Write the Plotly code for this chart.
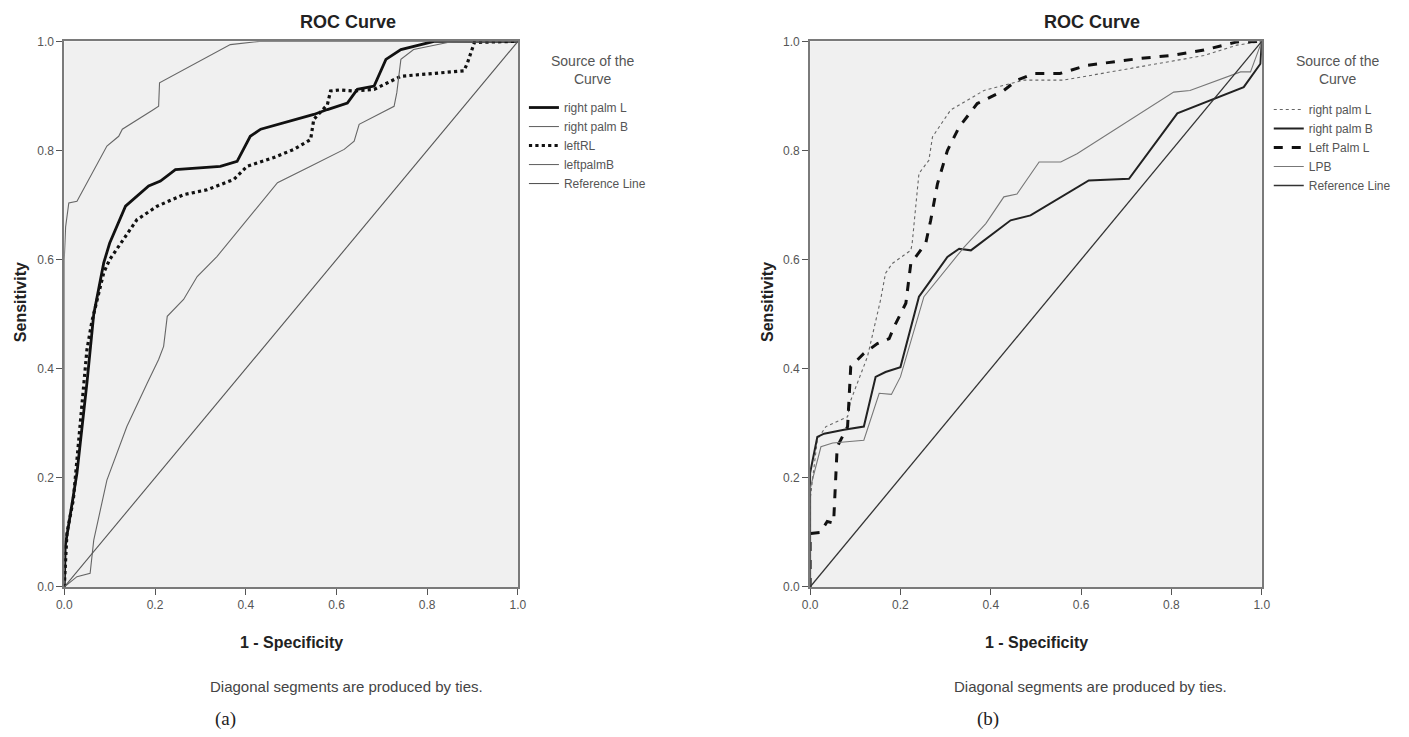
import plotly.graph_objects as go

# ---------------- Panel (a) data ----------------
a_rpl_x = [0, 0.002, 0.028, 0.05, 0.065, 0.087, 0.10, 0.135, 0.186, 0.212, 0.245, 0.344, 0.381, 0.41, 0.433, 0.55, 0.58, 0.624, 0.646, 0.683, 0.709, 0.742, 0.815, 1.0]
a_rpl_y = [0, 0.074, 0.209, 0.374, 0.50, 0.594, 0.63, 0.698, 0.735, 0.744, 0.765, 0.771, 0.78, 0.826, 0.839, 0.866, 0.875, 0.887, 0.912, 0.918, 0.967, 0.985, 1.0, 1.0]

a_rpb_x = [0, 0, 0.003, 0.01, 0.028, 0.094, 0.12, 0.128, 0.197, 0.208, 0.21, 0.366, 0.43, 1.0]
a_rpb_y = [0, 0.60, 0.66, 0.704, 0.707, 0.808, 0.826, 0.839, 0.875, 0.881, 0.924, 0.994, 1.0, 1.0]

a_lrl_x = [0, 0.006, 0.02, 0.035, 0.05, 0.061, 0.087, 0.10, 0.16, 0.205, 0.263, 0.315, 0.374, 0.403, 0.462, 0.506, 0.543, 0.55, 0.58, 0.587, 0.607, 0.639, 0.683, 0.742, 0.881, 0.889, 0.904, 1.0]
a_lrl_y = [0, 0.099, 0.16, 0.294, 0.435, 0.487, 0.576, 0.60, 0.673, 0.698, 0.719, 0.728, 0.747, 0.771, 0.787, 0.802, 0.82, 0.857, 0.884, 0.909, 0.911, 0.909, 0.912, 0.936, 0.946, 0.961, 0.998, 1.0]

a_lpb_x = [0, 0.028, 0.057, 0.065, 0.094, 0.138, 0.183, 0.208, 0.219, 0.227, 0.263, 0.285, 0.293, 0.337, 0.374, 0.433, 0.47, 0.543, 0.617, 0.639, 0.65, 0.727, 0.733, 0.742, 0.77, 0.845, 1.0]
a_lpb_y = [0, 0.019, 0.025, 0.086, 0.196, 0.294, 0.374, 0.417, 0.441, 0.496, 0.527, 0.557, 0.569, 0.606, 0.643, 0.704, 0.741, 0.771, 0.802, 0.817, 0.848, 0.881, 0.906, 0.967, 0.985, 0.998, 1.0]

# ---------------- Panel (b) data ----------------
b_rpl_x = [0, 0, 0.016, 0.035, 0.083, 0.09, 0.127, 0.145, 0.156, 0.167, 0.182, 0.223, 0.226, 0.241, 0.263, 0.271, 0.311, 0.385, 0.473, 0.562, 0.724, 0.872, 0.945, 1.0]
b_rpl_y = [0, 0.16, 0.27, 0.294, 0.312, 0.342, 0.422, 0.489, 0.526, 0.575, 0.593, 0.617, 0.63, 0.758, 0.782, 0.825, 0.874, 0.91, 0.929, 0.929, 0.953, 0.974, 0.993, 1.0]

b_rpb_x = [0, 0, 0.016, 0.031, 0.075, 0.119, 0.145, 0.167, 0.20, 0.241, 0.267, 0.304, 0.33, 0.356, 0.444, 0.488, 0.617, 0.706, 0.813, 0.894, 0.96, 0.997, 1.0]
b_rpb_y = [0, 0.209, 0.275, 0.281, 0.288, 0.294, 0.385, 0.394, 0.403, 0.532, 0.562, 0.605, 0.62, 0.617, 0.672, 0.681, 0.745, 0.748, 0.868, 0.895, 0.916, 0.959, 1.0]

b_lpl_x = [0, 0, 0.022, 0.038, 0.052, 0.06, 0.083, 0.09, 0.119, 0.149, 0.175, 0.186, 0.212, 0.223, 0.256, 0.267, 0.282, 0.304, 0.33, 0.37, 0.429, 0.458, 0.496, 0.553, 0.613, 0.724, 0.798, 0.872, 0.945, 1.0]
b_lpl_y = [0, 0.098, 0.10, 0.12, 0.117, 0.257, 0.294, 0.404, 0.428, 0.446, 0.455, 0.477, 0.52, 0.593, 0.63, 0.672, 0.739, 0.80, 0.843, 0.886, 0.91, 0.929, 0.941, 0.941, 0.956, 0.968, 0.974, 0.984, 0.999, 1.0]

b_lpb_x = [0, 0, 0.024, 0.05, 0.119, 0.153, 0.18, 0.20, 0.252, 0.341, 0.389, 0.429, 0.458, 0.507, 0.555, 0.591, 0.805, 0.841, 0.953, 0.975, 1.0]
b_lpb_y = [0, 0.18, 0.257, 0.264, 0.269, 0.355, 0.353, 0.385, 0.532, 0.623, 0.666, 0.715, 0.72, 0.779, 0.779, 0.794, 0.907, 0.91, 0.944, 0.944, 1.0]

ref_x = [0, 1]
ref_y = [0, 1]

tick_vals = [0, 0.2, 0.4, 0.6, 0.8, 1.0]
tick_text = ["0.0", "0.2", "0.4", "0.6", "0.8", "1.0"]

W, H = 1409, 737
# compensation for the page offset/scale seen in the rendered screenshot
SX, OX = 0.9908, 13.6
SY, OY = 0.987, 11.5


def px(v):
    return (v - OX) / SX / W


def py(v):
    return 1 - (v - OY) / SY / H


fig = go.Figure()


def add(x, y, name, color, width, dash, xa, ya, legend):
    fig.add_trace(go.Scatter(x=x, y=y, mode="lines", name=name,
                             line=dict(color=color, width=width, dash=dash),
                             xaxis=xa, yaxis=ya, legend=legend, hoverinfo="skip"))


# Panel (a)
add(a_rpl_x, a_rpl_y, "right palm L", "#111111", 2.8, "solid", "x", "y", "legend")
add(a_rpb_x, a_rpb_y, "right palm B", "#666666", 1.1, "solid", "x", "y", "legend")
add(a_lrl_x, a_lrl_y, "leftRL", "#111111", 3.2, "dot", "x", "y", "legend")
add(a_lpb_x, a_lpb_y, "leftpalmB", "#666666", 1.1, "solid", "x", "y", "legend")
add(ref_x, ref_y, "Reference Line", "#555555", 1.1, "solid", "x", "y", "legend")

# Panel (b)
add(b_rpl_x, b_rpl_y, "right palm L", "#666666", 1.1, "dot", "x2", "y2", "legend2")
add(b_rpb_x, b_rpb_y, "right palm B", "#222222", 2.0, "solid", "x2", "y2", "legend2")
add(b_lpl_x, b_lpl_y, "Left Palm L", "#111111", 3.0, "dash", "x2", "y2", "legend2")
add(b_lpb_x, b_lpb_y, "LPB", "#777777", 1.1, "solid", "x2", "y2", "legend2")
add(ref_x, ref_y, "Reference Line", "#333333", 1.3, "solid", "x2", "y2", "legend2")

SANS = "Liberation Sans, Arial, sans-serif"
ax_common = dict(range=[0, 1], tickvals=tick_vals, ticktext=tick_text,
                 ticks="outside", ticklen=6, tickcolor="#555555", tickwidth=1.2,
                 showgrid=False, zeroline=False, showline=True, mirror=True,
                 linecolor="#7a7a7a", linewidth=1.8,
                 tickfont=dict(family=SANS, size=12, color="#555555"))

leg_common = dict(xanchor="left", yanchor="top", bgcolor="rgba(0,0,0,0)",
                  tracegroupgap=0, itemwidth=30,
                  font=dict(family=SANS, size=12, color="#555555"))

fig.update_layout(
    width=W, height=H,
    margin=dict(l=0, r=0, t=0, b=0),
    paper_bgcolor="white", plot_bgcolor="#f0f0f0",
    showlegend=True,
    xaxis=dict(domain=[px(62), px(517)], anchor="y", **ax_common),
    yaxis=dict(domain=[py(587), py(38)], anchor="x", **ax_common),
    xaxis2=dict(domain=[px(810), px(1263)], anchor="y2", **ax_common),
    yaxis2=dict(domain=[py(587), py(38)], anchor="x2", **ax_common),
    legend=dict(x=px(523), y=py(90), **leg_common),
    legend2=dict(x=px(1270), y=py(92), **leg_common),
)


def note(x, y, text, font, angle=0):
    fig.add_annotation(x=px(x), y=py(y), xref="paper", yref="paper", text=text,
                       showarrow=False, xanchor="center", yanchor="middle",
                       textangle=angle, font=font)


title_font = dict(family=SANS, size=18, color="#222222")
axis_font = dict(family=SANS, size=16, color="#222222")
foot_font = dict(family=SANS, size=15, color="#444444")
leg_title_font = dict(family=SANS, size=14, color="#555555")
lab_font = dict(family="Liberation Serif, Times New Roman, serif", size=19, color="#222222")

panels = [
    # title x, plot center x, y-title x, legend-title x, footnote x, label x, label
    (347, 290, 18, 592, 345, 224, "(a)"),
    (1093, 1037, 768, 1339, 1091, 988, "(b)"),
]
for tx, cx, yx, lx, fx, bx, lbl in panels:
    note(tx, 19, "<b>ROC Curve</b>", title_font)
    note(cx, 643, "<b>1 - Specificity</b>", axis_font)
    note(yx, 300, "<b>Sensitivity</b>", axis_font, angle=-90)
    note(lx, 67, "Source of the<br>Curve", leg_title_font)
    note(fx, 687, "Diagonal segments are produced by ties.", foot_font)
    note(bx, 720, lbl, lab_font)

fig.write_html("out.html")
